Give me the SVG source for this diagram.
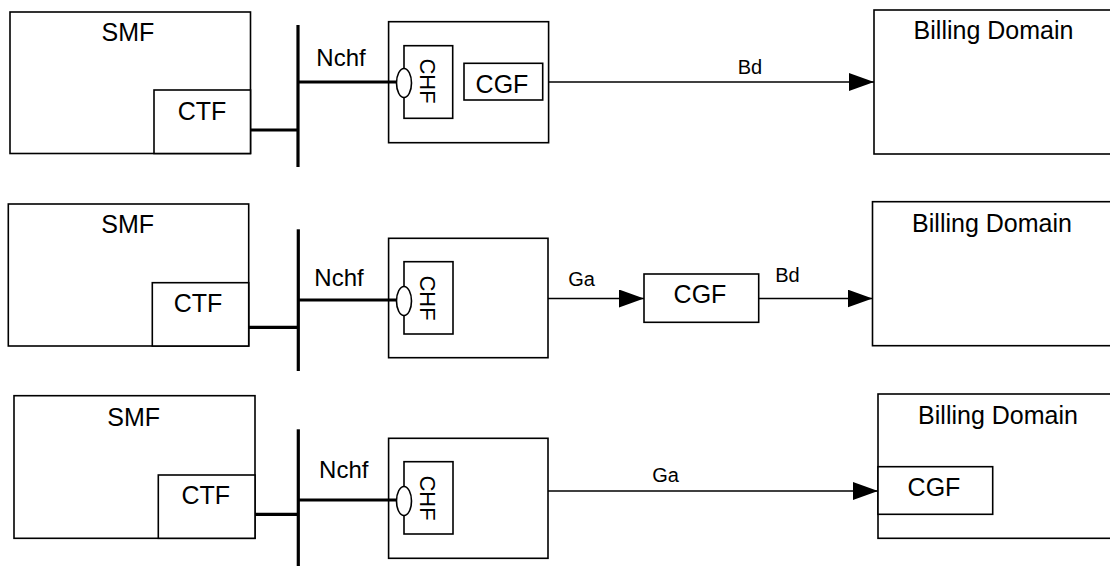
<svg xmlns="http://www.w3.org/2000/svg" width="1110" height="568" viewBox="0 0 1110 568">
<style>
.box{fill:#fff;stroke:#000;stroke-width:1.6}
.thick{stroke:#000;stroke-width:3.2;fill:none}
.thin{stroke:#000;stroke-width:1.6;fill:none}
.lbl{font-family:"Liberation Sans",Arial,sans-serif;font-size:25px;fill:#000;text-anchor:middle}
.chf{font-family:"Liberation Sans",Arial,sans-serif;font-size:22px;fill:#000;text-anchor:middle}
.if{font-family:"Liberation Sans",Arial,sans-serif;font-size:24px;fill:#000;text-anchor:middle}
.sm{font-family:"Liberation Sans",Arial,sans-serif;font-size:20px;fill:#000;text-anchor:middle}
</style>
<defs>
<marker id="arr" markerUnits="userSpaceOnUse" markerWidth="25" markerHeight="18" refX="25" refY="9" orient="auto">
<path d="M0,0 L25,9 L0,18 z" fill="#000"/>
</marker>
</defs>
<rect width="1110" height="568" fill="#fff"/>

<!-- Row 1 -->
<g id="smf1"><rect class="box" x="10" y="12" width="240.5" height="141.5"/><text class="lbl" x="128" y="41">SMF</text></g>
<g id="ctf1"><rect class="box" x="154" y="90" width="96.5" height="63.5"/><text class="lbl" x="202" y="120">CTF</text></g>
<g id="chfbox1"><rect class="box" x="388.6" y="21.7" width="160" height="121"/></g>
<g id="chf1"><rect class="box" x="404" y="45.7" width="48.7" height="72.6"/><text class="chf" transform="translate(428,81) rotate(90)" x="0" y="8">CHF</text></g>
<g id="cgf1"><rect class="box" x="464" y="63.3" width="78.7" height="36.7"/><text class="lbl" x="502" y="92.7">CGF</text></g>
<g id="bd1"><rect class="box" x="874" y="10" width="250" height="144"/><text class="lbl" x="993.5" y="39">Billing Domain</text></g>

<!-- Row 2 -->
<g id="smf2"><rect class="box" x="8.3" y="204" width="240.4" height="142"/><text class="lbl" x="127.7" y="233.3">SMF</text></g>
<g id="ctf2"><rect class="box" x="152.3" y="282.7" width="96.4" height="63.3"/><text class="lbl" x="198" y="311.7">CTF</text></g>
<g id="chfbox2"><rect class="box" x="388.6" y="238.3" width="159.4" height="119.4"/></g>
<g id="chf2"><rect class="box" x="404" y="261.7" width="49" height="72.3"/><text class="chf" transform="translate(428,298) rotate(90)" x="0" y="8">CHF</text></g>
<g id="cgf2"><rect class="box" x="644" y="274" width="114.7" height="48.3"/><text class="lbl" x="700" y="303.3">CGF</text></g>
<g id="bd2"><rect class="box" x="872.5" y="201.7" width="250" height="144"/><text class="lbl" x="992" y="231.7">Billing Domain</text></g>

<!-- Row 3 -->
<g id="smf3"><rect class="box" x="14" y="395.7" width="241" height="142.6"/><text class="lbl" x="133.7" y="426">SMF</text></g>
<g id="ctf3"><rect class="box" x="158.3" y="475" width="96.7" height="63.3"/><text class="lbl" x="205.8" y="504">CTF</text></g>
<g id="chfbox3"><rect class="box" x="388.6" y="438.3" width="159.4" height="120"/></g>
<g id="chf3"><rect class="box" x="404" y="461.7" width="49" height="72.3"/><text class="chf" transform="translate(428,498) rotate(90)" x="0" y="8">CHF</text></g>
<g id="bd3"><rect class="box" x="878" y="394" width="250" height="144.3"/><text class="lbl" x="998" y="424">Billing Domain</text></g>
<g id="cgf3"><rect class="box" x="878" y="466.7" width="114.7" height="47.6"/><text class="lbl" x="934" y="496">CGF</text></g>

<g id="connectors">
<!-- Row 1 -->
<line class="thick" x1="298" y1="25" x2="298" y2="167"/>
<line class="thick" x1="250.5" y1="130" x2="298" y2="130"/>
<line class="thick" x1="298" y1="82" x2="397" y2="82"/>
<ellipse class="box" cx="404" cy="83" rx="7.5" ry="14.5"/>
<text class="if" x="341" y="66">Nchf</text>
<line class="thin" x1="548.6" y1="82" x2="874" y2="82" marker-end="url(#arr)"/>
<text class="sm" x="750" y="74">Bd</text>

<!-- Row 2 -->
<line class="thick" x1="298.3" y1="229.3" x2="298.3" y2="371"/>
<line class="thick" x1="248.7" y1="327.3" x2="298.3" y2="327.3"/>
<line class="thick" x1="298.3" y1="300" x2="397" y2="300"/>
<ellipse class="box" cx="404" cy="301" rx="7.5" ry="14.5"/>
<text class="if" x="339" y="285.7">Nchf</text>
<line class="thin" x1="548" y1="298.5" x2="644" y2="298.5" marker-end="url(#arr)"/>
<text class="sm" x="581.5" y="286">Ga</text>
<line class="thin" x1="758.7" y1="298.5" x2="872.5" y2="298.5" marker-end="url(#arr)"/>
<text class="sm" x="787.5" y="281.7">Bd</text>

<!-- Row 3 -->
<line class="thick" x1="298.3" y1="429.3" x2="298.3" y2="566"/>
<line class="thick" x1="255" y1="514.3" x2="298.3" y2="514.3"/>
<line class="thick" x1="298.3" y1="500" x2="397" y2="500"/>
<ellipse class="box" cx="404" cy="501" rx="7.5" ry="14.5"/>
<text class="if" x="343.8" y="478.3">Nchf</text>
<line class="thin" x1="548" y1="491" x2="878" y2="491" marker-end="url(#arr)"/>
<text class="sm" x="665.5" y="481.7">Ga</text>
</g>
</svg>
